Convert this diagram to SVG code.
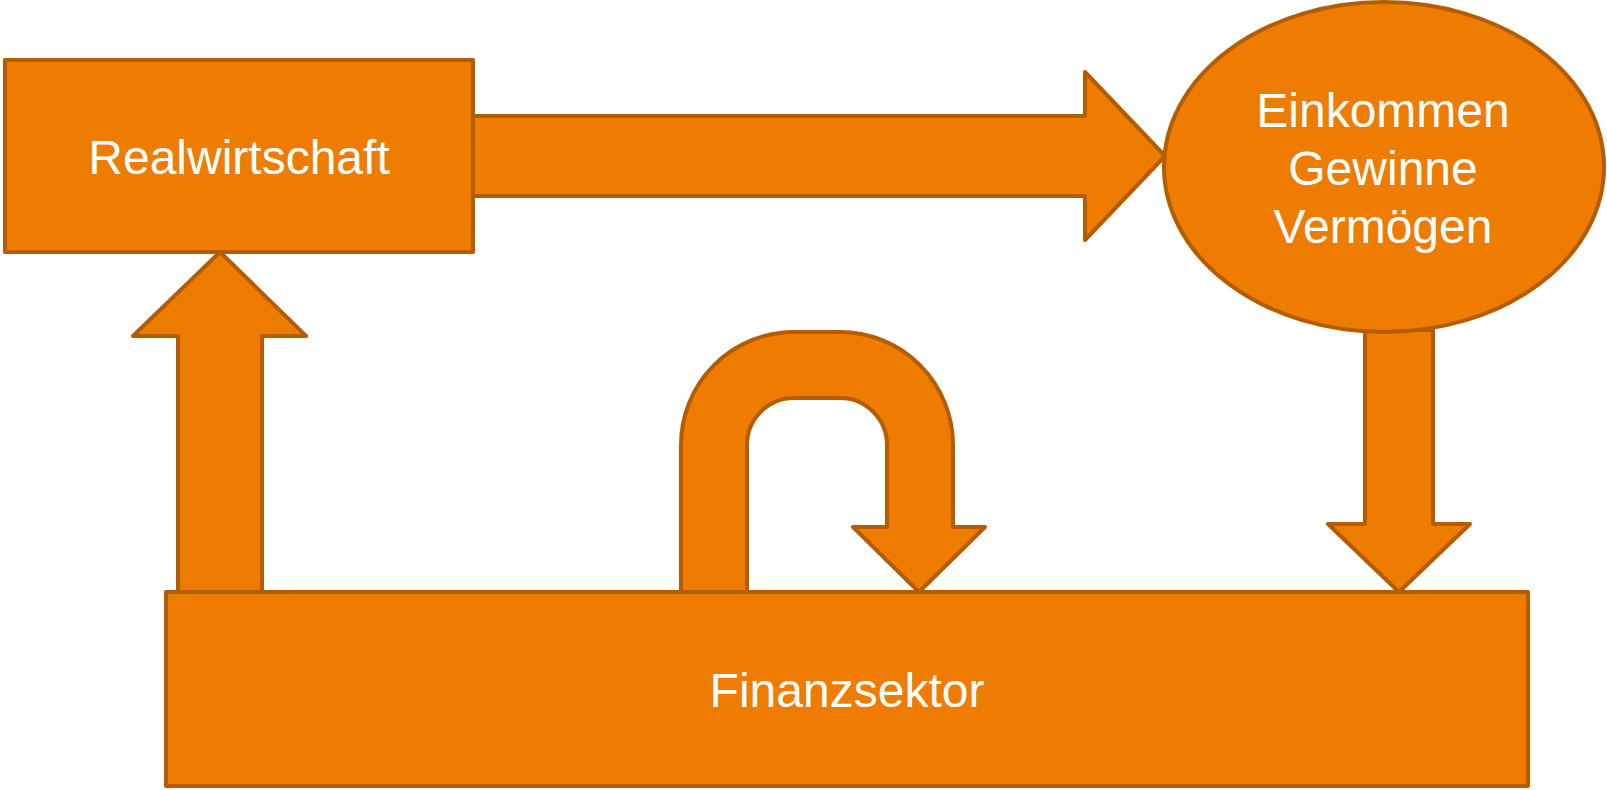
<svg xmlns="http://www.w3.org/2000/svg" width="1607" height="790" viewBox="0 0 1607 790">
<style>
.shape{fill:#EE7C00;stroke:#B35C00;stroke-width:4;stroke-linejoin:round}
.lbl{font-family:"Liberation Sans",Arial,sans-serif;font-size:48px;fill:#FFFFFF;text-anchor:middle}
</style>
<rect width="1607" height="790" fill="#FFFFFF"/>
<g id="connectors">
<path class="shape" d="M473,116 L1085,116 L1085,72 L1165,156 L1085,240 L1085,196 L473,196 Z"/>
<path class="shape" d="M178,592 L178,336 L133,336 L220,252 L306,336 L262,336 L262,592 Z"/>
<path class="shape" d="M681,592 L681,445 A113,113 0 0 1 794,332 L840,332 A113,113 0 0 1 953,445 L953,527 L985,527 L919,592 L853,527 L887,527 L887,445 A47,47 0 0 0 840,398 L794,398 A47,47 0 0 0 747,445 L747,592 Z"/>
<path class="shape" d="M1365,330 L1433,330 L1433,524 L1470,524 L1399,592 L1328,524 L1365,524 Z"/>
</g>
<g id="realwirtschaft">
<rect class="shape" x="5" y="60" width="468" height="192"/>
<text class="lbl" x="239" y="174">Realwirtschaft</text>
</g>
<g id="einkommen">
<ellipse class="shape" cx="1384" cy="167" rx="220" ry="165"/>
<text class="lbl" x="1383" y="127">Einkommen</text>
<text class="lbl" x="1383" y="185">Gewinne</text>
<text class="lbl" x="1383" y="243">Vermögen</text>
</g>
<g id="finanzsektor">
<rect class="shape" x="166" y="592" width="1362" height="194"/>
<text class="lbl" x="847" y="707">Finanzsektor</text>
</g>
</svg>
